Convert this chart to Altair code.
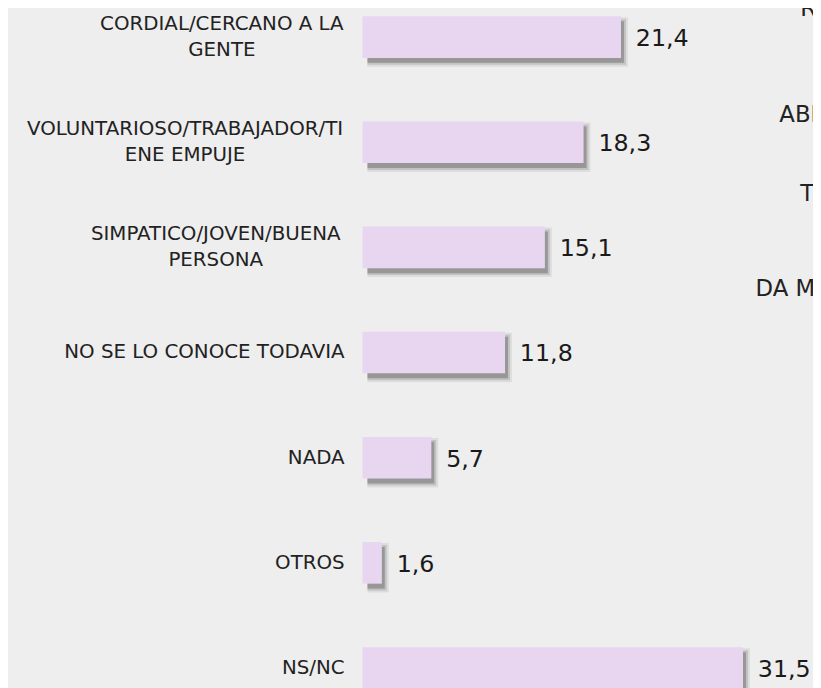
import altair as alt
import pandas as pd

# ---- data ----
categories = [
    "CORDIAL/CERCANO A LA\nGENTE",
    "VOLUNTARIOSO/TRABAJADOR/TI\nENE EMPUJE",
    "SIMPATICO/JOVEN/BUENA\nPERSONA",
    "NO SE LO CONOCE TODAVIA",
    "NADA",
    "OTROS",
    "NS/NC",
]
values = [21.4, 18.3, 15.1, 11.8, 5.7, 1.6, 31.5]
value_labels = ["21,4", "18,3", "15,1", "11,8", "5,7", "1,6", "31,5"]
edge_texts = ["R", "ABR", "TC", "DA MA"]  # cut-off words at the right edge

df = pd.DataFrame({
    "idx": list(range(len(categories))),
    "category": categories,
    "value": values,
    "vlabel": value_labels,
})

# ---- layout constants ----
W, H = 813, 680
PX_X = 12.2      # pixels per unit
X0 = 358         # pixel of value 0
STEP = 106.2     # row step in px
Y0 = 26          # centre of first row in px
BAR_H = 42
LABEL_EDGE = 340
LABEL_FS = 20
LINE_H = 26.5
CW = 0.62 * LABEL_FS
FONT = "DejaVu Sans"
BG = "#eeeeee"
BAR = "#e8d6f0"
TXT = "#222222"

xs = alt.Scale(domain=[-X0 / PX_X, (W - X0) / PX_X], range=[0, W], nice=False, zero=False)
ys = alt.Scale(domain=[-Y0 / STEP, (H - Y0) / STEP], range=[0, H], nice=False, zero=False)

base = alt.Chart(df)
hb = BAR_H / 2 / STEP

layers = []
# soft drop shadow (stacked translucent rects)
SX, SY = 3, 5
for grow, op in [(4, 0.07), (2, 0.12), (0, 0.22)]:
    sh = base.transform_calculate(
        sx0=f"({SX + 2})/{PX_X}",
        sx1=f"datum.value + ({SX + grow})/{PX_X}",
        sy0=f"datum.idx - {hb} + ({SY - grow})/{STEP}",
        sy1=f"datum.idx + {hb} + ({SY + grow})/{STEP}",
    ).mark_rect(color="black", opacity=op).encode(
        x=alt.X("sx0:Q", scale=xs, axis=None),
        x2="sx1:Q",
        y=alt.Y("sy0:Q", scale=ys, axis=None),
        y2="sy1:Q",
    )
    layers.append(sh)

bars = base.transform_calculate(
    b0="0",
    by0=f"datum.idx - {hb}",
    by1=f"datum.idx + {hb}",
).mark_rect(color=BAR).encode(
    x=alt.X("b0:Q", scale=xs, axis=None),
    x2="value:Q",
    y=alt.Y("by0:Q", scale=ys, axis=None),
    y2="by1:Q",
)
layers.append(bars)

single = base.transform_filter(
    "indexof(datum.category, '\\n') < 0"
).mark_text(align="right", baseline="middle", font=FONT, fontSize=LABEL_FS, color=TXT).encode(
    x=alt.value(LABEL_EDGE),
    y=alt.Y("idx:Q", scale=ys, axis=None),
    text="category:N",
)
layers.append(single)

multi = base.transform_filter(
    "indexof(datum.category, '\\n') >= 0"
).transform_calculate(
    lx=f"({LABEL_EDGE} - length(split(datum.category, '\\n')[0]) * {CW} / 2 - {X0}) / {PX_X}"
).mark_text(align="center", baseline="middle", font=FONT, fontSize=LABEL_FS,
            lineBreak="\n", lineHeight=LINE_H, dy=-LINE_H / 2, color=TXT).encode(
    x=alt.X("lx:Q", scale=xs, axis=None),
    y=alt.Y("idx:Q", scale=ys, axis=None),
    text="category:N",
)
layers.append(multi)

vals = base.mark_text(align="left", baseline="middle", dx=15, dy=2, font=FONT,
                      fontSize=24, color="#1a1a1a").encode(
    x=alt.X("value:Q", scale=xs, axis=None),
    y=alt.Y("idx:Q", scale=ys, axis=None),
    text="vlabel:N",
)
layers.append(vals)

edge_pos = [(800, 5), (779, 112), (800, 192), (755, 287)]
for t, (px, py) in zip(edge_texts, edge_pos):
    layers.append(
        alt.Chart(pd.DataFrame({"t": [t]})).mark_text(
            align="left", baseline="alphabetic", font=FONT, fontSize=23, color=TXT
        ).encode(x=alt.value(px), y=alt.value(py), text="t:N")
    )

chart = alt.layer(*layers).properties(
    width=W, height=H, background=BG, padding=0,
    autosize=alt.AutoSizeParams(type="none"),
).configure_view(stroke=None)

chart.save("out.html", embed_options={"renderer": "svg", "actions": False})
